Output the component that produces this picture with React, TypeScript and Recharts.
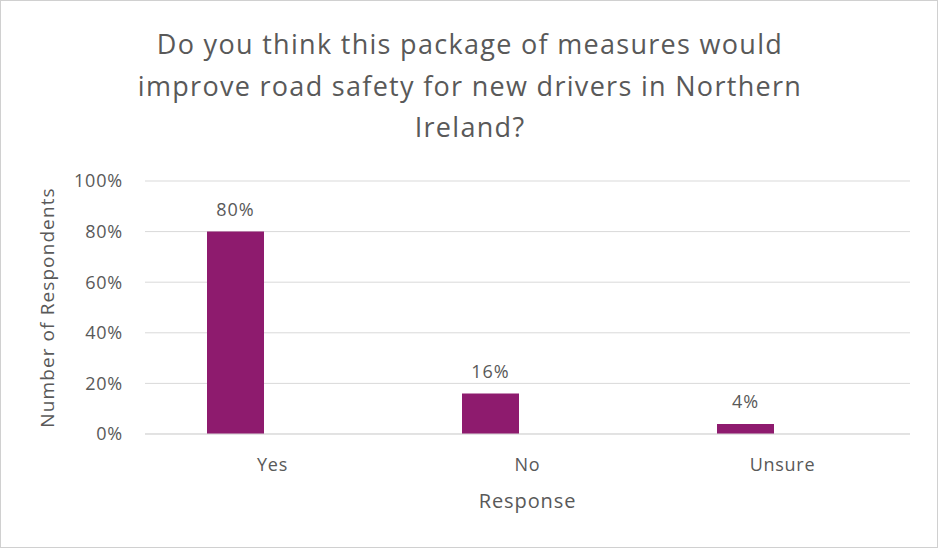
import React from 'react'
import { BarChart, Bar, XAxis, YAxis, CartesianGrid, LabelList, Label } from 'recharts'

const categories = ['Yes', 'No', 'Unsure']
const responseShare = [80, 16, 4]
const yTicks = [0, 20, 40, 60, 80, 100]

const titleLines = [
  'Do you think this package of measures would',
  'improve road safety for new drivers in Northern',
  'Ireland?',
]

const FONT = '"Open Sans", "Noto Sans", sans-serif'
const GREY = '#595959'
const BAR = '#8E1B6E'

export default function App() {
  const data = categories.map((name, i) => ({ name, share: responseShare[i], empty: null }))

  return (
    <div
      style={{
        position: 'fixed',
        top: 0,
        left: 0,
        width: 938,
        height: 548,
        background: '#fff',
        border: '1px solid #d0d0d0',
        boxSizing: 'border-box',
        fontFamily: FONT,
      }}
    >
      <div
        style={{
          position: 'absolute',
          top: 22,
          left: 0,
          width: 938,
          textAlign: 'center',
          color: GREY,
          fontSize: 27,
          letterSpacing: 1.3,
          lineHeight: '41.5px',
        }}
      >
        {titleLines.map(t => (
          <div key={t}>{t}</div>
        ))}
      </div>
      <div style={{ position: 'absolute', top: -1, left: -1 }}>
        <BarChart
          width={938}
          height={548}
          data={data}
          margin={{ top: 181, right: 28, bottom: 34, left: 80 }}
          barSize={57}
          barGap={17}
        >
          <CartesianGrid vertical={false} stroke="#d9d9d9" />
          <XAxis
            dataKey="name"
            axisLine={{ stroke: '#d9d9d9' }}
            tickLine={false}
            height={80}
            tick={{ fill: GREY, fontSize: 18, fontFamily: FONT, letterSpacing: 0.7 }}
            tickMargin={18}
          >
            <Label
              value="Response"
              position="insideBottom"
              offset={6}
              fill={GREY}
              fontSize={20}
              fontFamily={FONT}
              style={{ letterSpacing: 0.9 }}
            />
          </XAxis>
          <YAxis
            domain={[0, 100]}
            ticks={yTicks}
            tickFormatter={v => `${v}%`}
            axisLine={false}
            tickLine={false}
            width={65}
            tickMargin={16}
            tick={{ fill: GREY, fontSize: 18, fontFamily: FONT, letterSpacing: 0.8 }}
          >
            <Label
              value="Number of Respondents"
              angle={-90}
              position="insideLeft"
              offset={-33}
              style={{ textAnchor: 'middle', letterSpacing: 1.1 }}
              fill={GREY}
              fontSize={19}
              fontFamily={FONT}
            />
          </YAxis>
          <Bar dataKey="share" fill={BAR} isAnimationActive={false}>
            <LabelList
              dataKey="share"
              position="top"
              offset={16}
              formatter={(v: number) => `${v}%`}
              fill={GREY}
              fontSize={18}
              fontFamily={FONT}
              style={{ letterSpacing: 1 }}
            />
          </Bar>
          <Bar dataKey="empty" fill={BAR} isAnimationActive={false} />
        </BarChart>
      </div>
    </div>
  )
}
